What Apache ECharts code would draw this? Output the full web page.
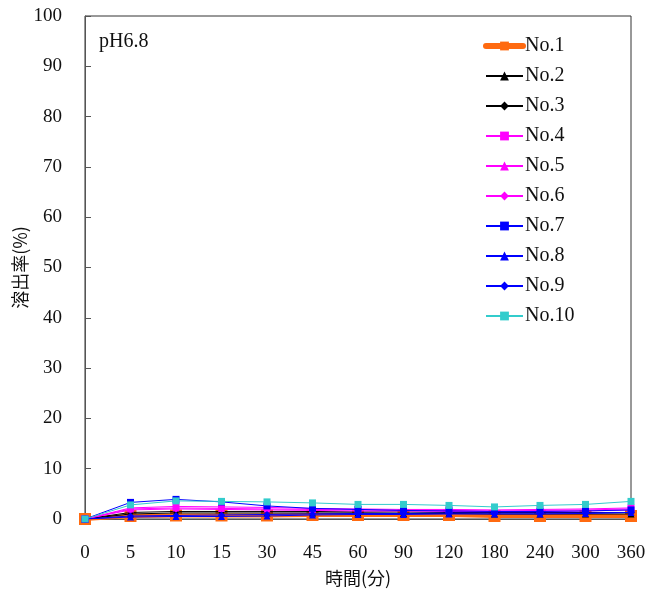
<!DOCTYPE html>
<html>
<head>
<meta charset="utf-8">
<script src="https://cdn.jsdelivr.net/npm/echarts@6/dist/echarts.min.js"></script>
<style>html,body{margin:0;padding:0;background:#fff}#c{width:649px;height:599px}</style>
</head>
<body>
<div id="c"></div>
<script>
const categories = ['0','5','10','15','30','45','60','90','120','180','240','300','360'];
const yTicks = [0,10,20,30,40,50,60,70,80,90,100];
const no1  = [0,0.6,0.7,0.7,0.7,0.8,0.8,0.8,0.8,0.6,0.6,0.6,0.6];
const no2  = [0,1.0,1.2,1.2,1.2,1.2,1.2,1.1,1.1,1.0,1.0,1.0,1.0];
const no3  = [0,1.3,1.5,1.5,1.5,1.5,1.4,1.4,1.3,1.3,1.3,1.3,1.3];
const no4  = [0,2.2,2.5,2.4,2.3,2.1,2.0,1.9,1.9,1.8,1.9,2.0,2.2];
const no5  = [0,2.0,2.2,2.1,2.0,1.9,1.8,1.7,1.7,1.6,1.7,1.8,2.0];
const no6  = [0,1.8,2.0,1.9,1.8,1.7,1.6,1.6,1.5,1.5,1.5,1.6,1.8];
const no7  = [0,3.3,3.9,3.4,2.6,2.1,1.9,1.7,1.6,1.5,1.5,1.6,1.8];
const no8  = [0,0.4,0.5,0.5,0.6,0.8,0.9,0.9,1.0,1.0,1.0,1.1,1.3];
const no9  = [0,0.6,0.7,0.8,0.9,1.0,1.1,1.1,1.2,1.2,1.2,1.2,1.3];
const no10 = [0,2.8,3.6,3.5,3.4,3.2,2.9,2.9,2.7,2.4,2.7,2.9,3.5];
const seriesNames = ['No.1','No.2','No.3','No.4','No.5','No.6','No.7','No.8','No.9','No.10'];
const seriesData = [no1,no2,no3,no4,no5,no6,no7,no8,no9,no10];
const colors = ['#ff6a10','#000000','#000000','#ff00ff','#ff00ff','#ff00ff','#0000ff','#0000ff','#0000ff','#33cccc'];
const symbols = ['rect','triangle','diamond','rect','triangle','diamond','rect','triangle','diamond','rect'];

const chart = echarts.init(document.getElementById('c'), null, {renderer:'canvas'});
const font = 'Liberation Serif';
const series = seriesNames.map((n,i)=>({
  name:n, type:'line', data:seriesData[i],
  symbol:symbols[i], symbolSize: i===0 ? 12 : 7,
  z: i===0 ? 1 : 2+i,
  lineStyle:{color:colors[i], width: i===0 ? 4 : 1},
  itemStyle:{color:colors[i]},
  animation:false
}));
chart.setOption({
  animation:false,
  backgroundColor:'#fff',
  color: colors,
  grid:{left:85,right:18,top:16,bottom:80,show:true,borderColor:'#333',borderWidth:1,
        containLabel:false,outerBoundsMode:'none'},
  graphic:[{type:'text',left:99,top:32,style:{text:'pH6.8',font:'20px "Liberation Serif"',fill:'#111'}}],
  legend:{
    orient:'vertical', left:483, top:36, padding:0, itemGap:10, itemWidth:37, itemHeight:11,
    textStyle:{fontFamily:font,fontSize:20,color:'#111',padding:[0,0,0,-3]},
    data: seriesNames.map((n,i)=>i===0
      ? {name:n, lineStyle:{width:6, cap:'round'}, itemStyle:{borderWidth:0}}
      : {name:n})
  },
  xAxis:{
    type:'category', data:categories, boundaryGap:false,
    name:'時間(分)', nameLocation:'middle', nameGap:50, nameMoveOverlap:false,
    nameTextStyle:{fontFamily:'Noto Sans CJK JP',fontSize:18,color:'#111'},
    axisLine:{lineStyle:{color:'#555'}},
    axisTick:{inside:true,length:5,lineStyle:{color:'#555'}},
    axisLabel:{fontFamily:font,fontSize:19,color:'#111',margin:25,interval:0},
    splitLine:{show:false}
  },
  yAxis:{
    type:'value', min:0, max:100, interval:10,
    name:'溶出率(%)', nameLocation:'middle', nameGap:56, nameMoveOverlap:false,
    nameTextStyle:{fontFamily:'Noto Sans CJK JP',fontSize:18,color:'#111'},
    axisLine:{show:true,lineStyle:{color:'#555'}},
    axisTick:{show:true,inside:true,length:6,lineStyle:{color:'#555'}},
    axisLabel:{fontFamily:font,fontSize:19,color:'#111',margin:23,
      formatter:v=>yTicks.includes(v)?String(v):''},
    splitLine:{show:false}
  },
  series: series
});
</script>
</body>
</html>
